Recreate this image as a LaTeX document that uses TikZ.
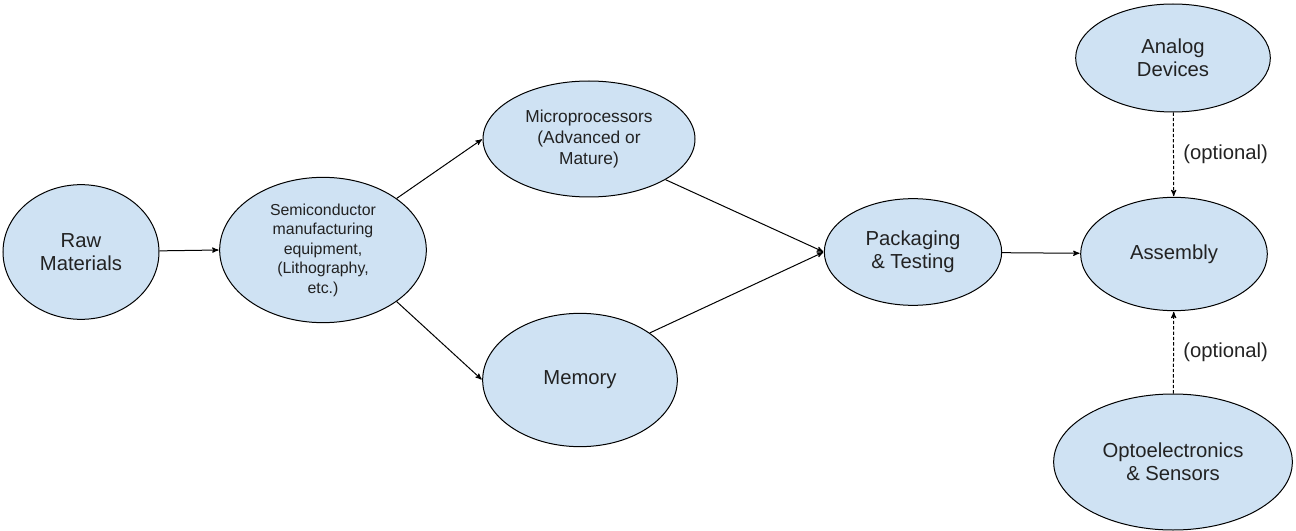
\documentclass[tikz,border=0pt]{standalone}
\usepackage{fontspec}
\setmainfont{Liberation Sans}
\usetikzlibrary{arrows,shapes.geometric}
\definecolor{blobfill}{HTML}{CFE2F3}
\definecolor{inkgray}{HTML}{222222}

\begin{document}
\begin{tikzpicture}[->,>=stealth',shorten >=0.5pt,auto,x=0.75pt,y=-0.75pt,
    line width=0.75pt,
    blob/.style={ellipse,draw=black,fill=blobfill,inner sep=0pt,align=center,
      text=inkgray,font=\fontsize{15.2}{17.6}\selectfont},
    small text/.style={font=\fontsize{11.9}{14.6}\selectfont},
    mid text/.style={font=\fontsize{13}{15.4}\selectfont},
    opt/.style={inner sep=7pt,text=inkgray,font=\fontsize{15.2}{17.6}\selectfont},
    maybe/.style={dash pattern=on 2.5pt off 1.5pt}]

  \useasboundingbox (0,0) rectangle (1296,531);

  \node[blob,minimum width=117pt,minimum height=101pt] (raw) at (81,252) {Raw\\Materials};
  \node[blob,small text,minimum width=155pt,minimum height=109pt] (semi) at (323,250)
    {Semiconductor\\manufacturing\\equipment,\\(Lithography,\\etc.)};
  \node[blob,mid text,minimum width=159pt,minimum height=87pt] (micro) at (589,139)
    {Microprocessors\\(Advanced or\\Mature)};
  \node[blob,minimum width=146pt,minimum height=100pt] (mem) at (580,380) {Memory};
  \node[blob,minimum width=133pt,minimum height=80pt] (pack) at (913,252) {Packaging\\\& Testing};
  \node[blob,minimum width=140pt,minimum height=85pt] (asm) at (1174,254) {Assembly};
  \node[blob,minimum width=146pt,minimum height=81pt] (analog) at (1173,58) {Analog\\Devices};
  \node[blob,minimum width=179pt,minimum height=102pt] (opto) at (1173,462)
    {Optoelectronics\\\& Sensors};

  \path (raw) edge (semi.west)
        (semi.35) edge (micro.west)
        (semi.-35) edge (mem.west)
        (micro.-28) edge (pack.west)
        (mem.34) edge (pack.west)
        (pack) edge (asm)
        (analog) edge [maybe] node [opt] {(optional)} (asm)
        (opto) edge [maybe] node [opt,swap] {(optional)} (asm);

\end{tikzpicture}
\end{document}
